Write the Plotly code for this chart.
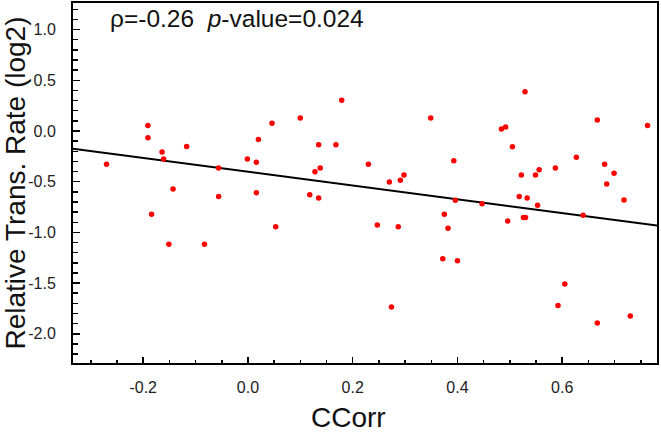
import numpy as np
import plotly.graph_objects as go

# Data
ccorr = [-0.270, -0.191, -0.191, -0.164, -0.161, -0.117, -0.143, -0.184, -0.151, -0.083,
         -0.056, -0.056, -0.001, 0.016, 0.020, 0.016, 0.046, 0.053,
         0.100, 0.179, 0.135, 0.168, 0.128, 0.138, 0.118, 0.135, 0.230, 0.247,
         0.287, 0.270, 0.291, 0.298, 0.274, 0.349, 0.393, 0.396, 0.375, 0.382,
         0.372, 0.400,
         0.529, 0.484, 0.492, 0.505, 0.627, 0.667, 0.763, 0.681, 0.699, 0.685,
         0.718, 0.522, 0.549, 0.556, 0.587, 0.518, 0.533, 0.553, 0.447, 0.526,
         0.530, 0.496, 0.640, 0.605, 0.592, 0.667, 0.730]
rel_rate = [-0.329, 0.055, -0.066, -0.207, -0.276, -0.152, -0.572, -0.822, -1.118, -1.118,
            -0.365, -0.645, -0.276, -0.309, -0.083, -0.608, 0.075, -0.944,
            0.128, 0.302, -0.135, -0.135, -0.401, -0.365, -0.628, -0.661, -0.329, -0.927,
            -0.944, -0.503, -0.487, -0.434, -1.736, 0.128, -0.293, -0.684, -0.822, -0.960,
            -1.259, -1.279,
            0.388, 0.020, 0.039, -0.155, -0.260, 0.108, 0.055, -0.329, -0.418, -0.523,
            -0.681, -0.434, -0.434, -0.382, -0.365, -0.645, -0.661, -0.733, -0.717, -0.852,
            -0.852, -0.888, -0.832, -1.509, -1.720, -1.893, -1.824]

# Regression line
fit_intercept = -0.402
fit_slope = -0.680
x_range = [-0.334, 0.781]
y_range = [-2.288, 1.262]

x_ticks = [-0.2, 0.0, 0.2, 0.4, 0.6]
x_tick_labels = ["-0.2", "0.0", "0.2", "0.4", "0.6"]
y_ticks = [-2.0, -1.5, -1.0, -0.5, 0.0, 0.5, 1.0]
y_tick_labels = ["-2.0", "-1.5", "-1.0", "-0.5", "0.0", "0.5", "1.0"]

x_title = "CCorr"
y_title = "Relative Trans. Rate (log2)"
stat_text = "ρ=-0.26  <i>p</i>-value=0.024"

FONT = "Liberation Sans, Arial, sans-serif"

fit_x = np.array(x_range)
fit_y = fit_intercept + fit_slope * fit_x

fig = go.Figure()
fig.add_trace(go.Scatter(
    x=fit_x, y=fit_y, mode="lines",
    line=dict(color="black", width=2), showlegend=False, hoverinfo="skip"))
fig.add_trace(go.Scatter(
    x=ccorr, y=rel_rate, mode="markers",
    marker=dict(color="#ff0000", size=5.5, line=dict(width=0)),
    showlegend=False))

axis_common = dict(
    showline=True, linecolor="black", linewidth=2, mirror=True,
    ticks="inside", tickcolor="black", tickwidth=1.5,
    showgrid=False, zeroline=False, automargin=False,
    tickfont=dict(family=FONT, size=16, color="#222222"),
)

fig.update_xaxes(
    range=x_range, tickvals=x_ticks, ticktext=x_tick_labels, ticklen=6,
    minor=dict(ticks="inside", dtick=0.05, tick0=0, ticklen=3.5, tickwidth=1.5, tickcolor="black"),
    ticklabelstandoff=9,
    **axis_common)
fig.update_yaxes(
    range=y_range, tickvals=y_ticks, ticktext=y_tick_labels, ticklen=6.5,
    minor=dict(ticks="inside", dtick=0.1, tick0=0, ticklen=4.5, tickwidth=1.5, tickcolor="black"),
    title=dict(text=y_title, font=dict(family=FONT, size=28, color="#111111"), standoff=4),
    ticklabelstandoff=12,
    **axis_common)

# x-axis title (placed slightly left of centre as in the reference)
fig.add_annotation(
    x=0.4726, y=-0.152, xref="paper", yref="paper", xanchor="center", yanchor="middle",
    text=x_title, showarrow=False,
    font=dict(family=FONT, size=28, color="#111111"))

fig.add_annotation(
    x=0.06, y=0.958, xref="paper", yref="paper", xanchor="left", yanchor="middle",
    text=stat_text, showarrow=False,
    font=dict(family=FONT, size=24.5, color="#111111"))

fig.update_layout(
    width=661, height=433,
    margin=dict(l=73, r=4, t=3, b=70),
    plot_bgcolor="white", paper_bgcolor="white",
)

fig.write_html(
    "out.html",
    config={"displayModeBar": False, "staticPlot": True},
    post_script="document.body.style.margin='0';document.body.style.overflow='hidden';",
)
